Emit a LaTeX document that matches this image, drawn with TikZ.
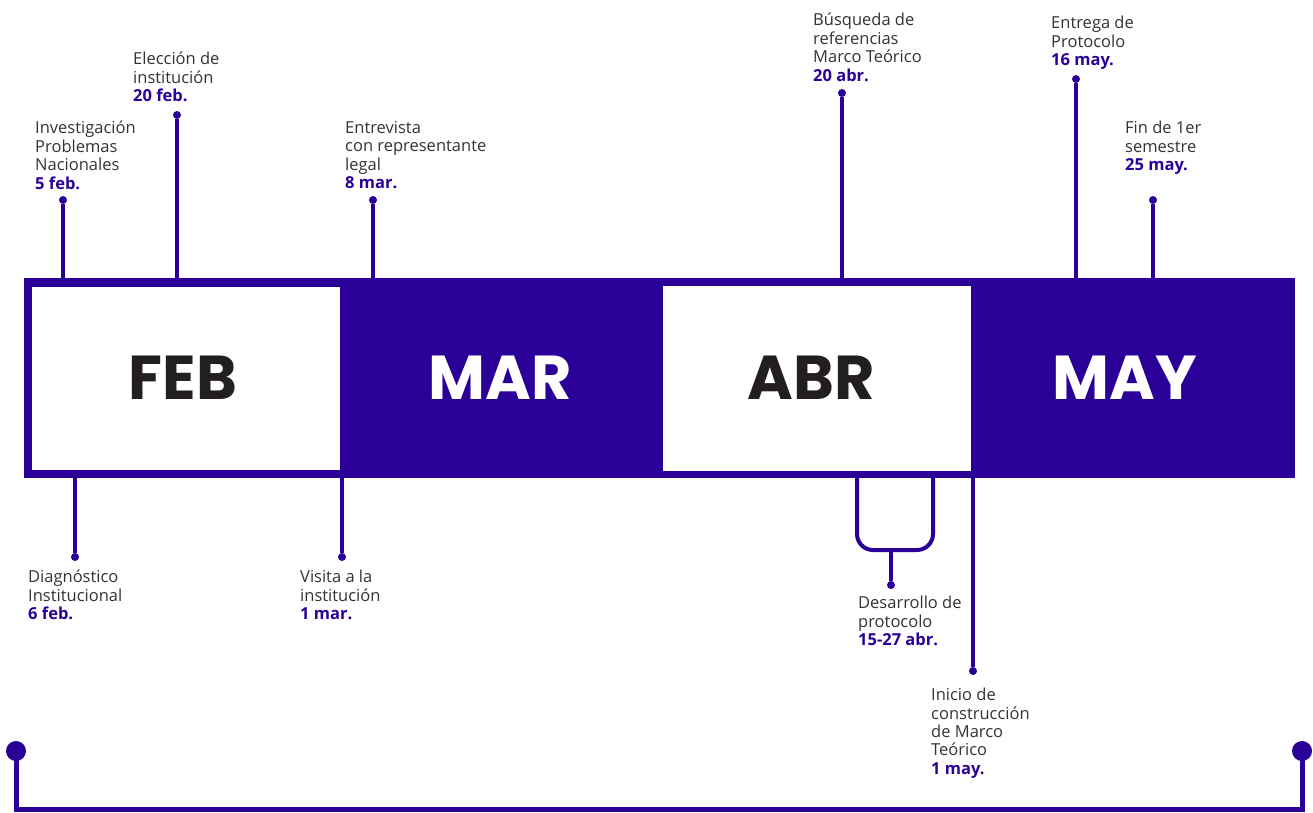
\documentclass[tikz,border=0pt]{standalone}
\usepackage{fontspec}
\setmainfont{Open Sans}
\newfontfamily\mesfont{Poppins}
\definecolor{tl}{RGB}{43,0,153}
\definecolor{txt}{RGB}{51,51,51}
\definecolor{mesnegro}{RGB}{35,31,32}
\newcommand{\fecha}[1]{\textcolor{tl}{\textbf{#1}}}

\begin{document}
\begin{tikzpicture}[x=1pt,y=-1pt,
  evt/.style={anchor=north west,align=left,inner sep=0pt,text=txt,
    font=\fontsize{16.5}{18.4}\selectfont},
  mes/.style={font=\mesfont\bfseries\fontsize{62}{62}\selectfont},
  dot/.style={circle,fill=tl,inner sep=0pt,minimum size=8pt},
  bigdot/.style={circle,fill=tl,inner sep=0pt,minimum size=20pt},
  tick/.style={draw=tl,line width=4pt},
  blanco/.style={fill=white,inner sep=0pt}]
  \useasboundingbox (0,0) rectangle (1313,812);
  % the bar
  \node[fill=tl,inner sep=0pt,minimum width=1271pt,minimum height=200pt] (bar) at (659.5,378) {};
  \node[blanco,minimum width=308pt,minimum height=183pt] (feb) at (186,378.5) {};
  \node[blanco,minimum width=308pt,minimum height=185pt] (abr) at (817,378.5) {};
  \node[mes,text=mesnegro] at (183,378) {FEB};
  \node[mes,text=white] at (500,378) {MAR};
  \node[mes,text=mesnegro] at (811,378) {ABR};
  \node[mes,text=white] at (1125,378) {MAY};
  % events above
  \node[dot] (inv) at (63,200) {};
  \node[dot] (ele) at (177,115) {};
  \node[dot] (ent) at (373,200) {};
  \node[dot] (bus) at (842,93) {};
  \node[dot] (egp) at (1076,79) {};
  \node[dot] (fin) at (1153,200) {};
  \foreach \d in {inv,ele,ent,bus,egp,fin}
    \draw[tick] (\d) -- (\d |- bar.north);
  \node[evt] at (35,121) {Investigación\\Problemas\\Nacionales\\\fecha{5 feb.}};
  \node[evt] at (133,52) {Elección de\\institución\\\fecha{20 feb.}};
  \node[evt] at (345,121) {Entrevista\\con representante\\legal\\\fecha{8 mar.}};
  \node[evt] at (813,13) {Búsqueda de\\referencias\\Marco Teórico\\\fecha{20 abr.}};
  \node[evt] at (1051,16) {Entrega de\\Protocolo\\\fecha{16 may.}};
  \node[evt] at (1125,121) {Fin de 1er\\semestre\\\fecha{25 may.}};
  % events below
  \node[dot] (dia) at (75,557) {};
  \node[dot] (vis) at (342,557) {};
  \node[dot] (des) at (891,585) {};
  \node[dot] (ini) at (973,671) {};
  \foreach \d in {dia,vis,ini}
    \draw[tick] (\d) -- (\d |- bar.south);
  \coordinate (brl) at (857,550);
  \coordinate (brr) at (933,550);
  \draw[tick,rounded corners=16pt] (brl |- bar.south) -- (brl) -- (brr) -- (brr |- bar.south);
  \draw[tick] (des) -- (des |- brl);
  \node[evt] at (28,570) {Diagnóstico\\Institucional\\\fecha{6 feb.}};
  \node[evt] at (300,570) {Visita a la\\institución\\\fecha{1 mar.}};
  \node[evt] at (858,596) {Desarrollo de\\protocolo\\\fecha{15-27 abr.}};
  \node[evt] at (931,688) {Inicio de\\construcción\\de Marco\\Teórico\\\fecha{1 may.}};
  % bottom line
  \node[bigdot] (ini0) at (16,751) {};
  \node[bigdot] (fin0) at (1302,751) {};
  \draw[tl,line width=5pt] (ini0.center) -- (ini0.center |- 0,809) -- (fin0.center |- 0,809) -- (fin0.center);
\end{tikzpicture}
\end{document}
